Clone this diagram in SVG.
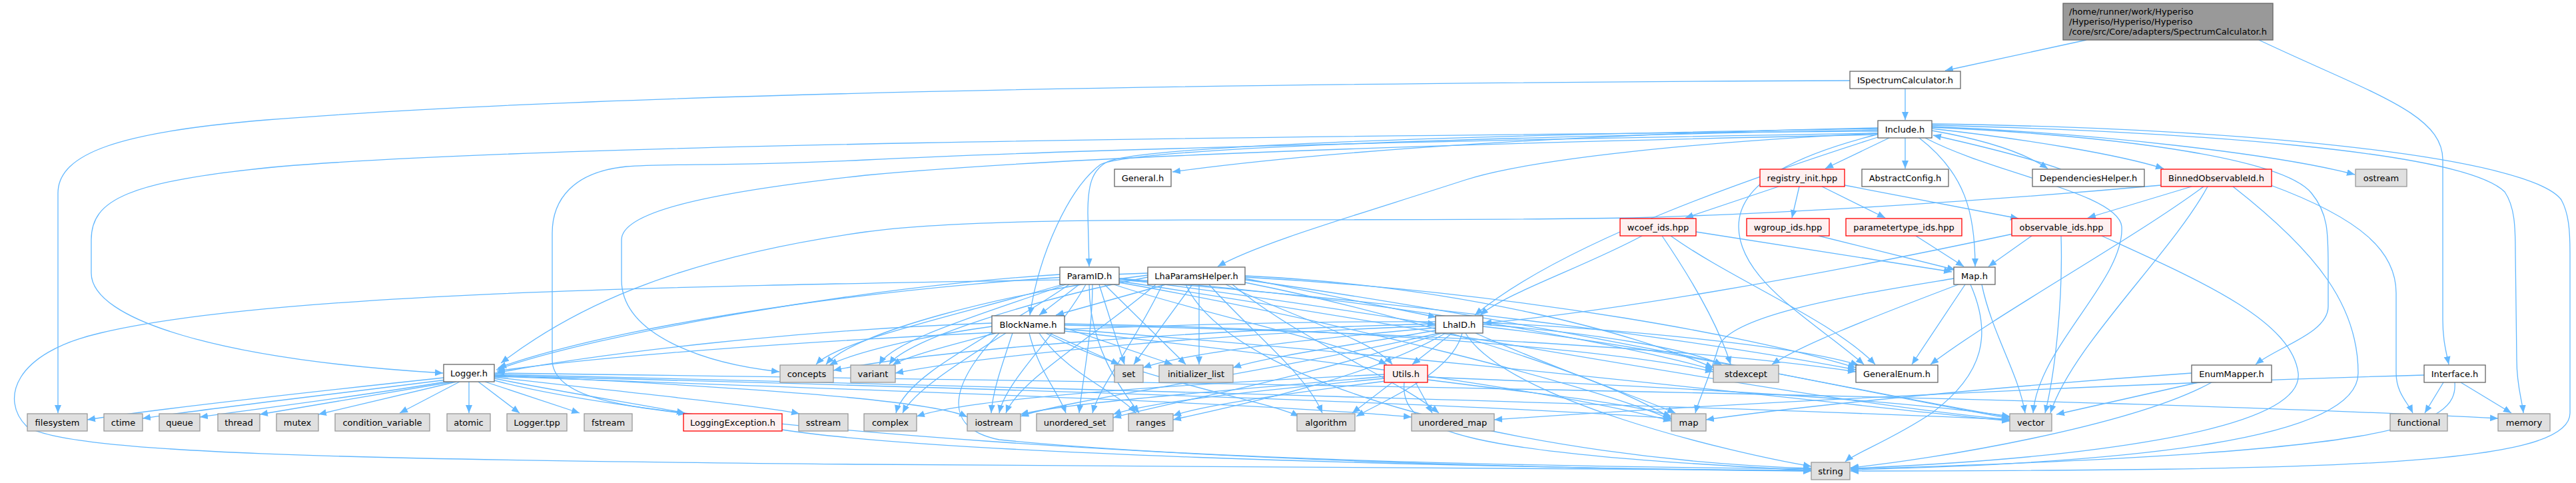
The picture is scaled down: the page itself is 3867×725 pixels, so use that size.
<svg xmlns="http://www.w3.org/2000/svg" width="3867" height="725" viewBox="0 0 3867 725">
<style>
.w{fill:#ffffff;stroke:#666666;stroke-width:1.3}
.g{fill:#e0e0e0;stroke:#999999;stroke-width:1.3}
.r{fill:#fff0f0;stroke:#ff0000;stroke-width:1.3}
.k{fill:#999999;stroke:#666666;stroke-width:1.3}
text{font-family:"DejaVu Sans","Liberation Sans",sans-serif;font-size:13px;fill:#000000}
.c{text-anchor:middle}
#edges path{fill:none;stroke:#63b8ff;stroke-width:1.3;marker-end:url(#a)}
</style>
<defs>
<marker id="a" markerUnits="userSpaceOnUse" markerWidth="13" markerHeight="11" refX="12" refY="5" orient="auto" viewBox="0 0 13 10"><path d="M0,0 L12,5 L0,10 Z" fill="#63b8ff"/></marker>
</defs>
<rect width="3867" height="725" fill="#ffffff"/>
<g id="edges">
<path d="M3132,60 L2920,106"/>
<path d="M3391,60 C3560,140 3667,170 3667,240 L3667,480 C3667,510 3672,528 3676,547"/>
<path d="M2860,133 L2860,180"/>
<path d="M2777,121 C1800,125 900,140 400,180 C180,198 87,230 87,290 L87,620"/>
<path d="M2836,207 L2740,253"/>
<path d="M2860,207 L2860,253"/>
<path d="M2900,196 C2980,210 3040,230 3074,253"/>
<path d="M3094,254 C3040,235 2960,216 2902,203"/>
<path d="M2900,193 C3050,210 3180,232 3248,253"/>
<path d="M2900,190 C3150,200 3420,232 3535,262"/>
<path d="M2819,192 C2400,200 2000,225 1760,258"/>
<path d="M2819,193 C2200,203 1720,218 1662,243 C1638,256 1633,280 1633,320 L1635,400"/>
<path d="M2819,195 C2200,207 1700,222 1652,247 C1605,282 1560,380 1546,473"/>
<path d="M2819,200 C2550,213 2300,238 2200,270 C2030,325 1890,365 1828,400"/>
<path d="M2822,205 C2650,260 2350,360 2214,473"/>
<path d="M2819,197 C1800,205 800,218 420,250 C190,272 137,300 137,360 L137,410 C137,480 330,540 665,560"/>
<path d="M2881,207 C2950,260 2965,320 2965,400"/>
<path d="M2900,191 C3200,205 3430,240 3470,290 C3495,320 3495,350 3495,400 L3495,460 C3495,500 3420,520 3386,547"/>
<path d="M2900,188 C3300,198 3700,228 3760,288 C3775,310 3776,340 3776,380 L3778,540 C3778,580 3786,600 3788,620"/>
<path d="M2900,186 C3400,193 3800,238 3845,300 C3856,320 3858,345 3858,380 L3858,620 C3858,700 3500,706 2778,707"/>
<path d="M2817,202 C2700,232 2610,272 2610,340 C2610,420 2720,480 2798,547"/>
<path d="M2890,207 C2990,260 3180,290 3185,340 C3190,420 3060,520 3052,620"/>
<path d="M2819,200 C2200,210 1600,225 1300,240 C1100,250 1000,245 940,250 C860,258 829,300 829,350 L829,540 C829,600 950,610 1030,621"/>
<path d="M2819,202 C2200,215 1600,235 1300,263 C1050,290 933,320 933,360 L933,420 C933,500 1050,545 1170,558"/>
<path d="M2670,280 L2530,327"/>
<path d="M2701,280 L2690,327"/>
<path d="M2735,280 L2830,327"/>
<path d="M2769,278 L3030,328"/>
<path d="M2730,354 L2935,405"/>
<path d="M2876,354 L2948,400"/>
<path d="M3050,354 L2985,400"/>
<path d="M3022,351 C2700,420 2400,470 2227,485"/>
<path d="M3094,354 C3097,450 3085,560 3070,620"/>
<path d="M3155,354 C3300,420 3440,480 3450,560 C3460,650 3100,690 2778,703"/>
<path d="M2546,348 L2930,408"/>
<path d="M2465,354 C2380,400 2260,440 2222,473"/>
<path d="M2508,354 C2600,420 2750,480 2815,547"/>
<path d="M2495,354 C2540,420 2580,490 2598,547"/>
<path d="M3290,280 L3134,327"/>
<path d="M3308,280 C3200,360 3000,470 2898,547"/>
<path d="M3314,280 C3260,380 3110,520 3078,620"/>
<path d="M3352,280 C3480,380 3540,460 3540,560 C3540,660 3200,695 2778,705"/>
<path d="M3406,277 C3550,330 3597,380 3597,440 L3597,560 C3597,590 3615,605 3622,620"/>
<path d="M3244,278 C3000,300 2700,320 2450,327 C2000,335 1500,320 1300,348 C1000,390 850,470 752,545"/>
<path d="M2950,427 L2870,547"/>
<path d="M2975,427 C2990,500 3030,560 3040,620"/>
<path d="M2958,427 C2990,500 2980,560 2900,620 C2840,660 2785,680 2770,693"/>
<path d="M2933,418 C2800,440 2600,470 2580,520 C2565,570 2550,600 2545,620"/>
<path d="M2940,427 C2800,480 2700,520 2660,547"/>
<path d="M1620,427 L1560,473"/>
<path d="M1650,427 L1688,547"/>
<path d="M1658,427 L1780,547"/>
<path d="M1680,418 C1850,440 2050,470 2155,487"/>
<path d="M1672,427 C1800,470 2000,510 2082,547"/>
<path d="M1591,412 C1300,430 900,500 745,555"/>
<path d="M1595,427 C1450,470 1260,510 1225,547"/>
<path d="M1600,427 C1480,470 1340,510 1320,547"/>
<path d="M1605,427 C1500,500 1360,560 1345,620"/>
<path d="M1630,427 C1590,500 1510,570 1500,620"/>
<path d="M1640,427 C1640,500 1625,570 1620,620"/>
<path d="M1635,427 C1635,520 1680,580 1710,620"/>
<path d="M1591,420 C1000,430 400,440 150,500 C20,530 0,600 40,640 C100,680 500,690 1300,697 C2000,702 2500,705 2719,706"/>
<path d="M1680,422 C2200,500 2700,600 3017,630"/>
<path d="M1680,424 C2000,480 2400,580 2509,630"/>
<path d="M1680,420 C2200,460 2600,520 2786,555"/>
<path d="M1680,418 C2100,450 2450,520 2572,555"/>
<path d="M1750,427 L1585,473"/>
<path d="M1790,427 L1702,547"/>
<path d="M1800,427 L1800,547"/>
<path d="M1869,418 C1980,440 2100,465 2156,476"/>
<path d="M1840,427 C1950,480 2060,510 2090,547"/>
<path d="M1815,427 C1880,500 1960,560 1985,620"/>
<path d="M1723,410 C1400,420 950,480 748,552"/>
<path d="M1723,413 C1500,440 1280,500 1240,547"/>
<path d="M1723,416 C1550,450 1360,510 1335,547"/>
<path d="M1735,427 C1650,500 1530,570 1510,620"/>
<path d="M1745,427 C1700,520 1650,580 1640,620"/>
<path d="M1780,427 C1850,580 2300,690 2719,703"/>
<path d="M1869,420 C2300,480 2800,590 3017,628"/>
<path d="M1869,424 C2100,470 2400,560 2509,628"/>
<path d="M1869,416 C2300,440 2650,510 2786,552"/>
<path d="M1869,414 C2200,430 2450,500 2572,552"/>
<path d="M1850,427 C1950,510 2100,570 2160,620"/>
<path d="M1575,500 L1680,547"/>
<path d="M1598,492 L1760,547"/>
<path d="M1489,485 C1200,495 900,530 745,560"/>
<path d="M1489,490 C1380,505 1280,530 1245,548"/>
<path d="M1495,500 C1420,520 1360,535 1340,548"/>
<path d="M1510,500 C1430,550 1370,590 1355,620"/>
<path d="M1520,500 C1500,560 1490,590 1488,620"/>
<path d="M1545,500 C1560,560 1590,590 1600,620"/>
<path d="M1560,500 C1600,560 1680,590 1705,620"/>
<path d="M1570,500 C1700,570 1900,600 1950,625"/>
<path d="M1500,500 C1440,560 1400,640 1500,660 C1800,690 2300,700 2719,704"/>
<path d="M1598,494 C2200,540 2700,600 3017,632"/>
<path d="M1598,497 C2000,540 2350,590 2509,632"/>
<path d="M1598,488 C2200,500 2600,530 2786,558"/>
<path d="M1598,486 C2100,495 2450,530 2572,558"/>
<path d="M2155,492 C1950,510 1780,530 1716,552"/>
<path d="M2155,496 C2050,515 1900,535 1851,552"/>
<path d="M2180,500 L2120,547"/>
<path d="M2195,500 C2180,560 2080,600 2036,625"/>
<path d="M2155,483 C1700,480 1000,520 746,557"/>
<path d="M2155,486 C1800,495 1400,525 1251,556"/>
<path d="M2155,489 C1850,500 1500,530 1344,560"/>
<path d="M2160,500 C1900,560 1600,600 1532,625"/>
<path d="M2165,500 C1950,570 1750,605 1671,627"/>
<path d="M2170,500 C2050,570 1850,610 1761,630"/>
<path d="M2200,500 C2260,600 2600,680 2719,700"/>
<path d="M2226,490 C2500,520 2850,600 3017,626"/>
<path d="M2215,500 C2350,560 2470,600 2515,620"/>
<path d="M2226,484 C2450,495 2700,520 2790,548"/>
<path d="M2226,487 C2400,500 2540,525 2585,548"/>
<path d="M2090,574 L2030,620"/>
<path d="M2125,574 L2150,620"/>
<path d="M2108,574 C2100,650 2200,680 2719,706"/>
<path d="M2078,565 C1800,590 1600,605 1532,622"/>
<path d="M2078,568 C1850,590 1720,605 1671,622"/>
<path d="M2080,572 C1900,595 1800,610 1761,624"/>
<path d="M2078,562 C1700,580 1450,600 1376,625"/>
<path d="M2143,566 C2500,580 2850,600 3017,625"/>
<path d="M2143,570 C2300,590 2450,605 2509,625"/>
<path d="M666,567 C450,590 250,612 131,630"/>
<path d="M670,570 C500,592 320,612 214,628"/>
<path d="M675,572 C560,592 400,612 300,626"/>
<path d="M680,573 L390,622"/>
<path d="M685,573 L478,622"/>
<path d="M690,573 L600,620"/>
<path d="M704,573 L704,620"/>
<path d="M718,573 L780,620"/>
<path d="M728,573 L870,620"/>
<path d="M742,568 C850,590 980,610 1028,620"/>
<path d="M742,566 C950,590 1150,610 1200,621"/>
<path d="M742,563 C1100,580 1400,600 1452,626"/>
<path d="M742,571 C1000,640 1800,700 2719,707"/>
<path d="M742,560 C1500,570 3000,590 3750,628"/>
<path d="M742,562 C1500,580 2600,610 3017,630"/>
<path d="M742,565 C1300,585 1900,605 2119,626"/>
<path d="M742,564 C1400,580 2200,605 2509,628"/>
<path d="M1174,645 C1400,680 2100,700 2719,707"/>
<path d="M3300,574 L3087,622"/>
<path d="M3320,574 C3200,640 2900,690 2778,702"/>
<path d="M3290,560 C3000,580 2700,610 2561,630"/>
<path d="M3668,574 L3640,620"/>
<path d="M3694,574 L3770,620"/>
<path d="M3685,574 C3690,640 3600,680 2778,704"/>
<path d="M3639,563 C3200,575 2600,605 2243,630"/>
</g>
<g id="n-root"><rect class="k" x="3097" y="5" width="315" height="55"/><text x="3106" y="22">/home/runner/work/Hyperiso</text><text x="3106" y="37">/Hyperiso/Hyperiso/Hyperiso</text><text x="3106" y="52">/core/src/Core/adapters/SpectrumCalculator.h</text></g>
<g id="n-ISpectrumCalculator"><rect class="w" x="2777" y="107" width="166" height="26"/><text class="c" x="2860" y="124.5">ISpectrumCalculator.h</text></g>
<g id="n-Include"><rect class="w" x="2819" y="181" width="81" height="26"/><text class="c" x="2859.5" y="198.5">Include.h</text></g>
<g id="n-registry_init"><rect class="r" x="2642" y="254" width="127" height="26"/><text class="c" x="2705.5" y="271.5">registry_init.hpp</text></g>
<g id="n-AbstractConfig"><rect class="w" x="2795" y="254" width="130" height="26"/><text class="c" x="2860" y="271.5">AbstractConfig.h</text></g>
<g id="n-DependenciesHelper"><rect class="w" x="3051" y="254" width="168" height="26"/><text class="c" x="3135" y="271.5">DependenciesHelper.h</text></g>
<g id="n-BinnedObservableId"><rect class="r" x="3244" y="254" width="166" height="26"/><text class="c" x="3327" y="271.5">BinnedObservableId.h</text></g>
<g id="n-ostream"><rect class="g" x="3536" y="254" width="77" height="26"/><text class="c" x="3574.5" y="271.5">ostream</text></g>
<g id="n-General"><rect class="w" x="1673" y="254" width="85" height="26"/><text class="c" x="1715.5" y="271.5">General.h</text></g>
<g id="n-wgroup_ids"><rect class="r" x="2622" y="328" width="124" height="26"/><text class="c" x="2684" y="345.5">wgroup_ids.hpp</text></g>
<g id="n-parametertype_ids"><rect class="r" x="2771" y="328" width="174" height="26"/><text class="c" x="2858" y="345.5">parametertype_ids.hpp</text></g>
<g id="n-observable_ids"><rect class="r" x="3020" y="328" width="149" height="26"/><text class="c" x="3094.5" y="345.5">observable_ids.hpp</text></g>
<g id="n-wcoef_ids"><rect class="r" x="2432" y="328" width="114" height="26"/><text class="c" x="2489" y="345.5">wcoef_ids.hpp</text></g>
<g id="n-Map"><rect class="w" x="2933" y="401" width="62" height="26"/><text class="c" x="2964" y="418.5">Map.h</text></g>
<g id="n-ParamID"><rect class="w" x="1591" y="401" width="89" height="26"/><text class="c" x="1635.5" y="418.5">ParamID.h</text></g>
<g id="n-LhaParamsHelper"><rect class="w" x="1723" y="401" width="146" height="26"/><text class="c" x="1796" y="418.5">LhaParamsHelper.h</text></g>
<g id="n-BlockName"><rect class="w" x="1489" y="474" width="109" height="26"/><text class="c" x="1543.5" y="491.5">BlockName.h</text></g>
<g id="n-LhaID"><rect class="w" x="2155" y="474" width="71" height="26"/><text class="c" x="2190.5" y="491.5">LhaID.h</text></g>
<g id="n-Logger"><rect class="w" x="666" y="547" width="76" height="26"/><text class="c" x="704" y="564.5">Logger.h</text></g>
<g id="n-concepts"><rect class="g" x="1171" y="548" width="80" height="26"/><text class="c" x="1211" y="565.5">concepts</text></g>
<g id="n-variant"><rect class="g" x="1277" y="548" width="67" height="26"/><text class="c" x="1310.5" y="565.5">variant</text></g>
<g id="n-set"><rect class="g" x="1673" y="548" width="43" height="26"/><text class="c" x="1694.5" y="565.5">set</text></g>
<g id="n-initializer_list"><rect class="g" x="1740" y="548" width="111" height="26"/><text class="c" x="1795.5" y="565.5">initializer_list</text></g>
<g id="n-Utils"><rect class="r" x="2078" y="548" width="65" height="26"/><text class="c" x="2110.5" y="565.5">Utils.h</text></g>
<g id="n-stdexcept"><rect class="g" x="2572" y="548" width="98" height="26"/><text class="c" x="2621" y="565.5">stdexcept</text></g>
<g id="n-GeneralEnum"><rect class="w" x="2786" y="548" width="123" height="26"/><text class="c" x="2847.5" y="565.5">GeneralEnum.h</text></g>
<g id="n-EnumMapper"><rect class="w" x="3290" y="548" width="120" height="26"/><text class="c" x="3350" y="565.5">EnumMapper.h</text></g>
<g id="n-Interface"><rect class="w" x="3639" y="548" width="92" height="26"/><text class="c" x="3685" y="565.5">Interface.h</text></g>
<g id="n-filesystem"><rect class="g" x="41" y="621" width="90" height="26"/><text class="c" x="86" y="638.5">filesystem</text></g>
<g id="n-ctime"><rect class="g" x="156" y="621" width="58" height="26"/><text class="c" x="185" y="638.5">ctime</text></g>
<g id="n-queue"><rect class="g" x="239" y="621" width="61" height="26"/><text class="c" x="269.5" y="638.5">queue</text></g>
<g id="n-thread"><rect class="g" x="327" y="621" width="63" height="26"/><text class="c" x="358.5" y="638.5">thread</text></g>
<g id="n-mutex"><rect class="g" x="415" y="621" width="63" height="26"/><text class="c" x="446.5" y="638.5">mutex</text></g>
<g id="n-condition_variable"><rect class="g" x="503" y="621" width="142" height="26"/><text class="c" x="574" y="638.5">condition_variable</text></g>
<g id="n-atomic"><rect class="g" x="671" y="621" width="65" height="26"/><text class="c" x="703.5" y="638.5">atomic</text></g>
<g id="n-Logger_tpp"><rect class="g" x="761" y="621" width="90" height="26"/><text class="c" x="806" y="638.5">Logger.tpp</text></g>
<g id="n-fstream"><rect class="g" x="877" y="621" width="72" height="26"/><text class="c" x="913" y="638.5">fstream</text></g>
<g id="n-LoggingException"><rect class="r" x="1026" y="621" width="148" height="26"/><text class="c" x="1100" y="638.5">LoggingException.h</text></g>
<g id="n-sstream"><rect class="g" x="1199" y="621" width="74" height="26"/><text class="c" x="1236" y="638.5">sstream</text></g>
<g id="n-complex"><rect class="g" x="1297" y="621" width="79" height="26"/><text class="c" x="1336.5" y="638.5">complex</text></g>
<g id="n-iostream"><rect class="g" x="1452" y="621" width="80" height="26"/><text class="c" x="1492" y="638.5">iostream</text></g>
<g id="n-unordered_set"><rect class="g" x="1556" y="621" width="115" height="26"/><text class="c" x="1613.5" y="638.5">unordered_set</text></g>
<g id="n-ranges"><rect class="g" x="1694" y="621" width="67" height="26"/><text class="c" x="1727.5" y="638.5">ranges</text></g>
<g id="n-algorithm"><rect class="g" x="1947" y="621" width="87" height="26"/><text class="c" x="1990.5" y="638.5">algorithm</text></g>
<g id="n-unordered_map"><rect class="g" x="2119" y="621" width="124" height="26"/><text class="c" x="2181" y="638.5">unordered_map</text></g>
<g id="n-map"><rect class="g" x="2509" y="621" width="52" height="26"/><text class="c" x="2535" y="638.5">map</text></g>
<g id="n-vector"><rect class="g" x="3017" y="621" width="63" height="26"/><text class="c" x="3048.5" y="638.5">vector</text></g>
<g id="n-functional"><rect class="g" x="3588" y="621" width="86" height="26"/><text class="c" x="3631" y="638.5">functional</text></g>
<g id="n-memory"><rect class="g" x="3750" y="621" width="78" height="26"/><text class="c" x="3789" y="638.5">memory</text></g>
<g id="n-string"><rect class="g" x="2719" y="694" width="58" height="26"/><text class="c" x="2748" y="711.5">string</text></g>
</svg>
